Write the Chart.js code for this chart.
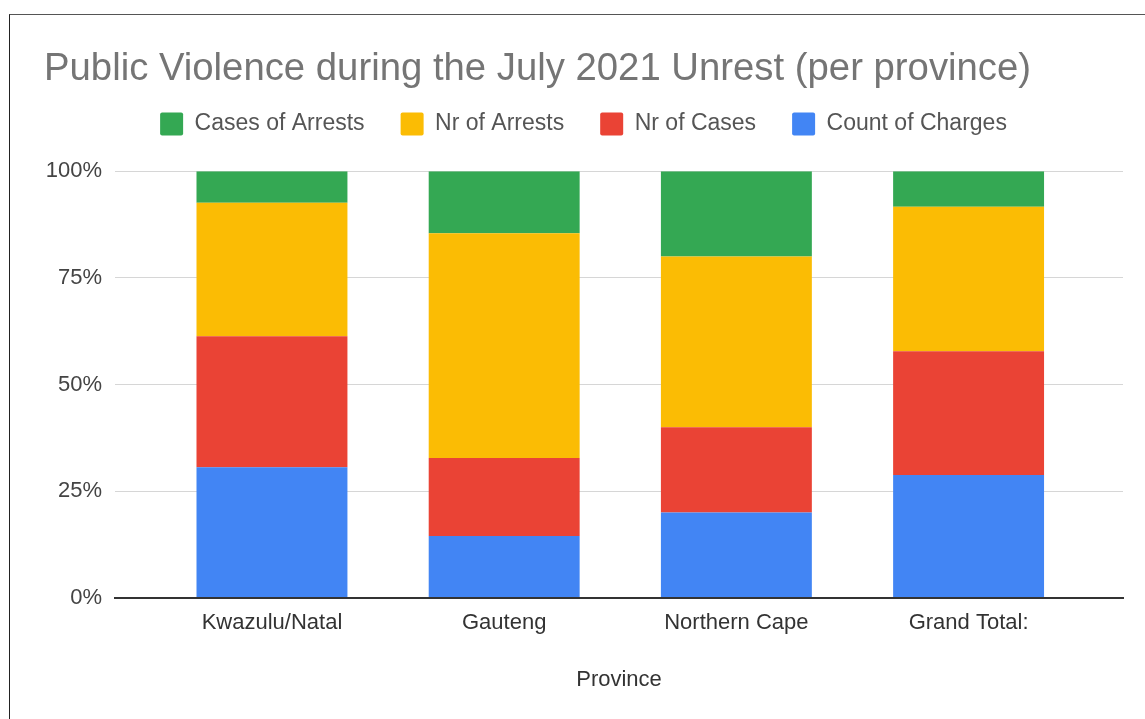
<!DOCTYPE html>
<html>
<head>
<meta charset="utf-8">
<script src="https://cdn.jsdelivr.net/npm/chart.js@4/dist/chart.umd.min.js"></script>
<style>
  html, body { margin: 0; padding: 0; background: #fff; overflow: hidden; }
  #frame {
    position: absolute; left: 9px; top: 14px; width: 1300px; height: 900px;
    border-left: 1px solid #222; border-top: 1px solid #555;
  }
  #chart { position: absolute; left: 0; top: 0; }
</style>
</head>
<body>
<div id="frame"></div>
<canvas id="chart" width="1145" height="719"></canvas>
<script>
// Provinces on the x axis
const provinces = ['Kwazulu/Natal', 'Gauteng', 'Northern Cape', 'Grand Total:'];

// Share of each measure per province, in percent (stacked bottom to top)
const countOfCharges = [30.6, 14.5, 20, 28.8];
const nrOfCases      = [30.7, 18.3, 20, 29.0];
const nrOfArrests    = [31.3, 52.7, 40, 33.9];
const casesOfArrests = [7.4, 14.5, 20, 8.3];

// Percent ticks on the value axis
const percentTicks = [0, 25, 50, 75, 100];

const seriesNames  = ['Count of Charges', 'Nr of Cases', 'Nr of Arrests', 'Cases of Arrests'];
const seriesValues = [countOfCharges, nrOfCases, nrOfArrests, casesOfArrests];
const seriesColors = ['#4285F4', '#EA4335', '#FBBC04', '#34A853'];

Chart.defaults.font.family = "'Liberation Sans', Arial, sans-serif";

const datasets = seriesNames.map((name, s) => ({
  label: name,
  data: provinces.map((p, i) => ({ x: i, y: seriesValues[s][i] })),
  backgroundColor: seriesColors[s],
  borderWidth: 0,
  borderRadius: 0,
  categoryPercentage: 0.65,
  barPercentage: 1
}));

new Chart(document.getElementById('chart'), {
  type: 'bar',
  data: { datasets },
  options: {
    responsive: false,
    animation: false,
    devicePixelRatio: 1,
    layout: { padding: { top: 0, left: 44, right: 22, bottom: 0 } },
    plugins: {
      title: {
        display: true,
        text: 'Public Violence during the July 2021 Unrest (per province)',
        align: 'start',
        color: '#757575',
        font: { size: 38.3, weight: 'normal', lineHeight: 1 },
        padding: { top: 50.3, bottom: -12 }
      },
      legend: {
        display: true,
        position: 'top',
        align: 'center',
        labels: {
          boxWidth: 23,
          boxHeight: 23,
          padding: 36,
          color: '#555',
          font: { size: 23 },
          useBorderRadius: true,
          borderRadius: 2,
          sort: (a, b) => b.datasetIndex - a.datasetIndex
        }
      },
      tooltip: { enabled: false }
    },
    scales: {
      x: {
        type: 'linear',
        position: 'bottom',
        min: -0.676,
        max: 3.665,
        bounds: 'data',
        offset: false,
        stacked: true,
        afterBuildTicks: (scale) => { scale.ticks = provinces.map((p, i) => ({ value: i })); },
        ticks: {
          autoSkip: false,
          maxRotation: 0,
          padding: 12,
          color: '#333',
          font: { size: 22 },
          callback: (v) => provinces[v]
        },
        grid: { display: false, drawTicks: false },
        border: { display: true, color: '#333', width: 2, z: 1 },
        title: {
          display: true,
          text: 'Province',
          color: '#333',
          font: { size: 22 },
          padding: { top: 18.4, bottom: 26 }
        }
      },
      // empty band between the legend and the plot area
      xTop: {
        type: 'linear',
        axis: 'x',
        position: 'top',
        display: true,
        grid: { display: false, drawTicks: false },
        border: { display: false },
        ticks: { display: false },
        afterFit: (scale) => { scale.height = 25.7; }
      },
      y: {
        stacked: true,
        min: 0,
        max: 100,
        afterBuildTicks: (scale) => { scale.ticks = percentTicks.map(v => ({ value: v })); },
        afterFit: (scale) => { scale.width = 71; },
        ticks: {
          padding: 13,
          color: '#444',
          font: { size: 22 },
          callback: (v) => v + '%'
        },
        grid: {
          drawTicks: false,
          lineWidth: 1,
          color: (c) => (c.tick && c.tick.value === 0) ? 'rgba(0,0,0,0)' : '#d6d6d6'
        },
        border: { display: false }
      }
    }
  }
});
</script>
</body>
</html>
